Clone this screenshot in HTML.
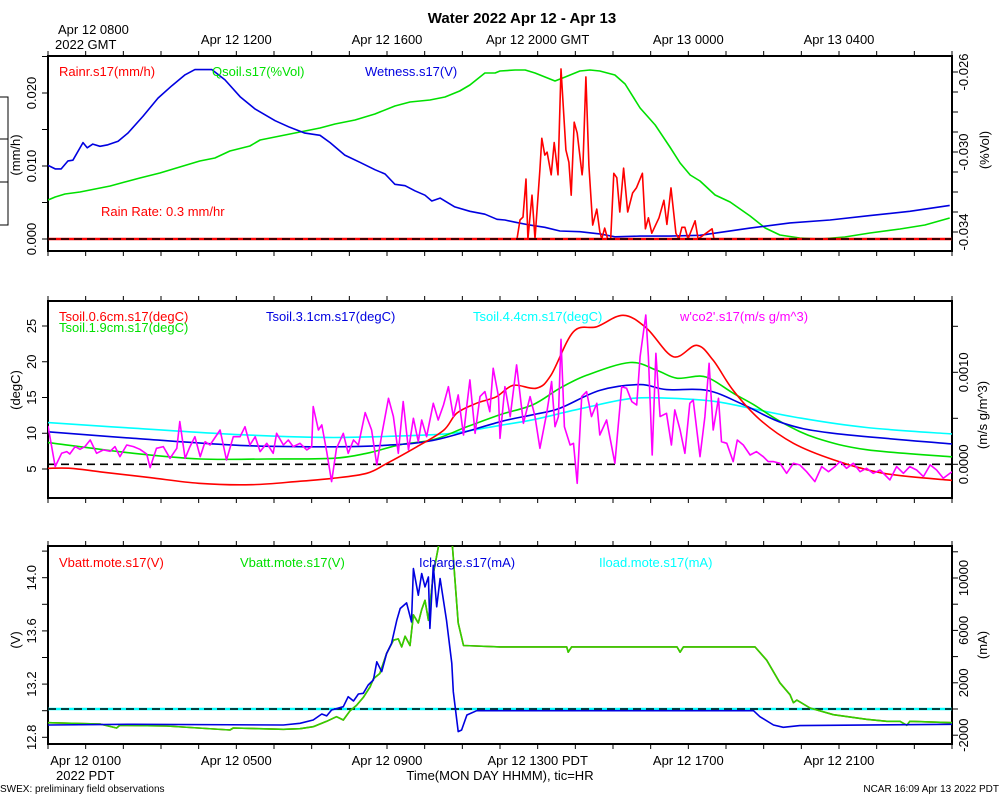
<!DOCTYPE html>
<html><head><meta charset="utf-8">
<style>
body{margin:0;background:#fff;}
svg{display:block;font-family:"Liberation Sans",sans-serif;}
</style></head>
<body>
<svg id="chart" width="1000" height="800" viewBox="0 0 1000 800">
<defs>
<clipPath id="c1"><rect x="48" y="56" width="904" height="195"/></clipPath>
<clipPath id="c2"><rect x="48" y="301" width="904" height="197"/></clipPath>
<clipPath id="c3"><rect x="48" y="546" width="904" height="198"/></clipPath>
</defs>
<text x="522" y="23" text-anchor="middle" font-size="15" font-weight="bold">Water 2022 Apr 12 - Apr 13</text>
<g id="g" font-size="13"></g>
</svg>
<script>
// ---- time axis labels
const pdtLabels=["Apr 12 0100","Apr 12 0500","Apr 12 0900","Apr 12 1300 PDT","Apr 12 1700","Apr 12 2100"];
const pdtHours=[1,5,9,13,17,21];
const gmtLabels=["","Apr 12 1200","Apr 12 1600","Apr 12 2000 GMT","Apr 13 0000","Apr 13 0400"];
// ---- panel 1 data (hours PDT)
const wetT=[0,.19,.35,.53,.66,.93,1.04,1.19,1.38,1.59,1.86,2.12,2.52,2.92,3.29,3.64,3.9,4.17,4.35,4.7,5.1,5.5,6.03,6.42,6.82,7.22,7.49,7.88,8.28,8.68,8.95,9.21,9.48,9.74,10.01,10.19,10.41,10.8,11.2,11.6,11.92,12.13,12.4,12.8,13.19,13.59,14.12,14.65,15.05,15.72,16.51,17.31,18.64,19.7,20.76,21.82,22.88,23.94];
const wetV=[.0101,.0096,.0096,.0107,.0108,.0132,.0125,.013,.0127,.0129,.0134,.0145,.0168,.0193,.021,.0225,.0232,.0232,.0232,.0218,.0195,.0178,.0162,.0153,.0145,.0142,.0132,.0115,.0105,.0095,.0089,.0075,.0073,.0066,.006,.0052,.0056,.0044,.0038,.0034,.0027,.0026,.0023,.0019,.0016,.0011,.001,.0007,.0003,.0004,.0004,.0005,.0015,.0022,.0026,.0032,.0038,.0046];
const qsT=[0,.19,.45,.85,1.25,1.65,2.04,2.44,2.97,3.5,4.03,4.43,4.83,5.36,5.63,6.16,6.69,7.22,7.62,8.15,8.68,9.21,9.61,10.14,10.54,10.93,11.2,11.6,11.87,12.0,12.4,12.67,12.93,13.46,13.73,14.12,14.39,14.65,15.05,15.32,15.72,16.12,16.51,16.78,17.05,17.31,17.71,18.11,18.64,19.04,19.43,19.96,20.49,21.15,21.82,22.62,23.28,23.94];
const qsV=[-.0324,-.03225,-.0321,-.032,-.03185,-.0317,-.0315,-.0313,-.03105,-.03075,-.03045,-.0303,-.02995,-.0297,-.0294,-.0292,-.029,-.0288,-.0286,-.0284,-.0281,-.0277,-.0275,-.0274,-.02725,-.02695,-.02665,-.02605,-.02605,-.02595,-.0259,-.0259,-.02605,-.02645,-.02625,-.02595,-.0259,-.02595,-.02615,-.0266,-.0278,-.02865,-.02975,-.03055,-.03115,-.03145,-.03215,-.0325,-.0332,-.0338,-.03415,-.0343,-.03435,-.03425,-.03405,-.03385,-.03365,-.0333];
const rainT=[0,12.45,12.53,12.61,12.69,12.74,12.85,12.93,13.06,13.11,13.19,13.25,13.36,13.44,13.54,13.62,13.75,13.83,13.89,13.97,14.05,14.18,14.2,14.28,14.36,14.46,14.57,14.65,14.7,14.78,14.86,14.94,15.02,15.1,15.18,15.28,15.39,15.52,15.62,15.78,15.86,15.94,16.03,16.22,16.35,16.43,16.54,16.67,16.75,16.83,16.91,16.99,17.18,17.26,17.63,17.68,24];
const rainV=[0,0,.0026,.003,.0082,0,.006,0,.0095,.0138,.0115,.0119,.0088,.0132,.0088,.0233,.0122,.0105,.006,.016,.0145,.0088,.0099,.0222,.0101,.0019,.0041,.001,0,.0015,0,0,.009,.0084,.0037,.0097,.0037,.0063,.007,.009,.0014,.0029,.0008,.0029,.0053,.002,.0070,.0008,0,.0016,.0016,0,.0025,0,.0014,0,0];
// ---- panel 2 data
const t06T=[0,.6,1.4,2.7,4.0,5.4,6.7,7.57,8.46,9.0,9.79,10.5,10.85,11.38,11.9,12.35,12.97,13.35,13.95,14.57,15.27,15.89,16.6,17.22,17.66,18.19,18.9,19.79,20.85,22.18,24];
const t06V=[5.1,5.1,4.6,3.8,3.0,2.8,3.3,3.7,4.4,5.8,8.1,10.4,12.8,14.2,15.1,16.7,16.3,18.1,24.2,24.9,26.5,24.7,20.7,22.3,20.2,16.0,11.9,8.6,6.3,4.4,3.4];
const t19T=[0,2.27,4.04,5.81,7.58,8.46,9.35,10.23,11.12,12.0,12.88,13.59,14.3,15.45,16.16,16.69,17.31,17.66,18.19,18.73,19.52,20.41,21.73,24];
const t19V=[8.7,7.2,6.4,6.4,6.5,7.2,8.4,9.1,10.9,12.6,14.0,16.3,18.1,19.9,18.8,17.7,18.0,17.4,15.6,14.0,11.4,9.3,7.7,6.7];
const t31T=[0,2.27,5.1,7.58,8.9,10.23,12.0,12.88,13.59,14.65,15.72,16.42,17.5,18.46,19.52,20.85,24];
const t31V=[10.2,9.3,8.3,8.1,8.3,9.0,11.6,12.6,13.5,16.0,16.8,16.1,16.0,14.0,11.4,10.0,8.5];
const t44T=[0,2.27,5.1,7.58,10.23,11.0,12.0,12.88,14.2,15.55,16.9,17.78,18.64,20.0,21.73,24];
const t44V=[11.5,10.7,9.8,9.4,9.8,10.2,11.1,11.9,13.5,14.9,14.8,14.4,13.5,12.1,10.8,9.9];
const co2T=[0,.19,.36,.5,.58,.72,.85,.98,1.12,1.29,1.47,1.65,1.78,1.91,2.09,2.27,2.44,2.62,2.71,2.88,3.06,3.24,3.42,3.5,3.64,3.77,3.9,4.04,4.17,4.3,4.57,4.74,4.92,5.1,5.23,5.36,5.5,5.63,5.81,5.98,6.07,6.25,6.38,6.51,6.69,6.87,7.0,7.04,7.18,7.27,7.4,7.53,7.66,7.84,7.97,8.11,8.24,8.42,8.59,8.73,8.86,9.04,9.17,9.3,9.43,9.57,9.7,9.83,9.92,10.05,10.23,10.36,10.5,10.63,10.76,10.89,11.03,11.12,11.2,11.34,11.47,11.6,11.73,11.82,11.96,12.0,12.13,12.27,12.44,12.62,12.8,12.93,13.06,13.24,13.37,13.46,13.55,13.62,13.71,13.86,13.95,14.05,14.17,14.3,14.43,14.57,14.65,14.83,15.05,15.23,15.36,15.5,15.63,15.72,15.87,15.94,16.04,16.14,16.25,16.42,16.55,16.64,16.78,16.91,17.04,17.13,17.31,17.44,17.55,17.66,17.8,17.88,18.02,18.19,18.3,18.46,18.64,18.81,18.99,19.12,19.26,19.43,19.61,19.79,19.96,20.14,20.36,20.54,20.72,20.89,21.03,21.2,21.38,21.56,21.73,21.91,22.09,22.35,22.53,22.71,22.88,23.06,23.24,23.42,23.59,23.77,24.0];
const co2V=[.000417,-.000025,.00012,.000138,.000112,.000192,.000163,.000192,.000264,.00012,.000156,.000141,.000192,.000083,.00021,.000192,.000163,.000112,-.000036,.000174,.000192,.000065,.000174,.000464,.000065,.000192,.0003,.000083,.000246,.00021,.000373,.000047,.0003,.0003,.000409,.00021,.0003,.000138,.000228,.00012,.000337,.00021,.000264,.000192,.000228,.000156,.000192,.000627,.000373,.000428,.000138,-.000188,.000174,.000337,.00012,.000264,.00021,.000562,.000373,-.000007,.000319,.000717,.000518,.00012,.000681,.000156,.0005,.000246,.000482,.0003,.000663,.000482,.000645,.000844,.000518,.000754,.000319,.000645,.000917,.000337,.000736,.00079,.000572,.001043,.000736,.000283,.000844,.000518,.00108,.000446,.000736,.000518,.000174,.000554,.000899,.000409,.000518,.001359,.000409,.00021,.000228,-.000207,.000736,.00079,.000518,.000663,.000319,.000482,.000011,.000844,.000826,.000681,.000645,.00117,.001623,.00117,.000101,.001207,.000518,.000554,.00021,.000591,.000373,.00012,.000663,.000699,.000083,.000518,.001098,.000373,.000717,.000246,.000228,.000029,.000264,.00021,.000101,.000138,.000083,.000029,.000029,.000011,-.000098,.000011,-.000007,-.00008,-.000188,-.000025,-.00008,-.000025,.000029,-.000043,.000011,-.00008,-.000043,-.000098,-.000062,-.00017,-.000025,-.000098,-.000025,-.000062,-.000134,-.000007,-.000062,-.000152,-.00008];
// ---- panel 3 data
const vbT=[0,1.38,1.82,1.91,3.15,4.83,4.92,6.25,6.69,7.04,7.4,7.66,7.84,8.02,8.19,8.37,8.55,8.64,8.81,8.99,9.17,9.3,9.39,9.48,9.61,9.7,9.83,9.92,10.01,10.1,10.23,10.41,10.58,10.72,10.89,11.03,12.0,13.77,13.81,13.9,16.7,16.78,16.87,18.77,19.08,19.43,19.7,19.79,19.88,20.23,20.85,21.73,22.27,22.62,22.8,22.88,24];
const vbV=[12.91,12.9,12.87,12.89,12.885,12.855,12.87,12.86,12.865,12.88,12.92,12.955,12.93,13.0,13.04,13.1,13.18,13.24,13.28,13.43,13.53,13.54,13.48,13.56,13.49,13.72,13.66,13.76,13.83,13.68,14.03,14.3,14.3,14.3,13.66,13.49,13.48,13.48,13.44,13.48,13.48,13.44,13.48,13.48,13.38,13.21,13.12,13.06,13.08,13.02,12.97,12.935,12.92,12.92,12.89,12.92,12.91];
const icT=[0,2.27,6.25,6.69,7.04,7.27,7.4,7.53,7.84,7.97,8.11,8.24,8.37,8.5,8.64,8.73,8.86,8.99,9.12,9.26,9.35,9.52,9.65,9.7,9.83,9.92,10.01,10.1,10.14,10.23,10.32,10.41,10.58,10.72,10.76,10.89,10.98,11.12,11.38,12.0,18.73,18.9,19.26,19.52,19.96,24];
const icV=[-1220,-1170,-1220,-1090,-840,-380,-530,-76,178,940,610,1143,1200,1830,2210,3600,2845,4240,5000,6780,7670,8100,6650,10720,8690,10340,9320,10080,6150,10970,7800,9960,6780,3480,1320,-1727,-1600,-457,-127,-127,-127,-584,-1220,-1400,-1270,-1170];
const ilT=[0,24];
const ilV=[0,0];

const NS="http://www.w3.org/2000/svg";
const G=document.getElementById('g');
const X=h=>48+h*37.667;
function el(tag,attrs,parent){const e=document.createElementNS(NS,tag);for(const k in attrs)e.setAttribute(k,attrs[k]);(parent||G).appendChild(e);return e;}
function txt(x,y,s,attrs){const e=el('text',Object.assign({x:x,y:y},attrs||{}));e.textContent=s;return e;}
function line(T,V,sy,color,clip,name,w){
  const pts=T.map((t,i)=>X(t).toFixed(1)+','+sy(V[i]).toFixed(1)).join(' ');
  const p=el('polyline',{points:pts,fill:'none',stroke:color,'stroke-width':w||1.6,'clip-path':'url(#'+clip+')','stroke-linejoin':'round'});
  
  
  return p;
}
function smooth(T,V,sy,color,clip,name){
  const P=T.map((t,i)=>[X(t),sy(V[i])]);
  let d='M'+P[0][0]+','+P[0][1];
  for(let i=0;i<P.length-1;i++){
    const p0=P[Math.max(0,i-1)],p1=P[i],p2=P[i+1],p3=P[Math.min(P.length-1,i+2)];
    const c1=[p1[0]+(p2[0]-p0[0])/6,p1[1]+(p2[1]-p0[1])/6],c2=[p2[0]-(p3[0]-p1[0])/6,p2[1]-(p3[1]-p1[1])/6];
    d+=' C'+c1[0].toFixed(1)+','+c1[1].toFixed(1)+' '+c2[0].toFixed(1)+','+c2[1].toFixed(1)+' '+p2[0].toFixed(1)+','+p2[1].toFixed(1);
  }
  const p=el('path',{d:d,fill:'none',stroke:color,'stroke-width':1.6,'clip-path':'url(#'+clip+')'});
  
  
}
function panel(top,bot,name){
  const r=el('rect',{x:48,y:top,width:904,height:bot-top,fill:'none',stroke:'#000','stroke-width':2});
  
  
  for(let h=0;h<=24;h++){el('line',{x1:X(h),x2:X(h),y1:top,y2:top-5,stroke:'#000','stroke-width':1});el('line',{x1:X(h),x2:X(h),y1:bot,y2:bot+5,stroke:'#000','stroke-width':1});}
}
function yaxis(vals,labels,sy,side,fmt){
  const x0=side==='l'?48:952,dx=side==='l'?-6:6;
  vals.forEach(v=>{const y=sy(v);el('line',{x1:x0,x2:x0+dx,y1:y,y2:y,stroke:'#000','stroke-width':1});});
  labels.forEach(v=>{const y=sy(v);const lx=side==='l'?36:968;
    const t=txt(lx,y,fmt(v),{'text-anchor':'middle',transform:'rotate(-90 '+lx+' '+y+')'});
    
    });
}
function rotLabel(x,y,s,name){const t=txt(x,y,s,{'text-anchor':'middle',transform:'rotate(-90 '+x+' '+y+')'});}
function legend(x,y,s,c,name){const t=txt(x,y,s,{fill:c});}
function dashed(y,clip,bg){
  if(bg)el('line',{x1:48,x2:952,y1:y,y2:y,stroke:bg,'stroke-width':2.5});
  el('line',{x1:48,x2:952,y1:y,y2:y,stroke:'#000','stroke-width':1.6,'stroke-dasharray':'8 5'});
}
// ---- panel 1
const y1L=v=>239-v*7300, y1R=v=>72+(-0.026-v)*20000;
panel(56,251,'rain-panel');
yaxis([0,.005,.01,.015,.02,.025],[0,.01,.02],y1L,'l',v=>v.toFixed(3));
yaxis([-.026,-.027,-.028,-.029,-.03,-.031,-.032,-.033,-.034],[-.026,-.030,-.034],y1R,'r',v=>v.toFixed(3));
rotLabel(20,155,'(mm/h)','y-axis-title-rain');
rotLabel(989,150,'(%Vol)','y-axis-title-qsoil');
line(qsT,qsV,y1R,'#00e000','c1','qsoil-line');
line(wetT,wetV,y1L,'#0000e0','c1','wetness-line');
line(rainT,rainV,y1L,'#ff0000','c1','rain-line');
dashed(239,'c1','#ff0000');
legend(59,76,'Rainr.s17(mm/h)','#ff0000','legend-rain');
legend(212,76,'Qsoil.s17(%Vol)','#00e000','legend-qsoil');
legend(365,76,'Wetness.s17(V)','#0000e0','legend-wetness');
legend(101,216,'Rain Rate: 0.3 mm/hr','#ff0000','rain-rate-note');
// outside bracket
el('polyline',{points:'0,97 8,97 8,225 0,225',fill:'none',stroke:'#000','stroke-width':1});
el('line',{x1:0,x2:8,y1:139,y2:139,stroke:'#000'});el('line',{x1:0,x2:8,y1:182,y2:182,stroke:'#000'});
// gmt labels
txt(58,34,'Apr 12 0800');txt(55,49,'2022 GMT');
gmtLabels.forEach((s,i)=>{if(!s)return;const t=txt(X(pdtHours[i]),44,s,{'text-anchor':'middle'});});
// ---- panel 2
const y2L=v=>469-(v-5)*7.15, y2R=v=>464.3-v*92000;
panel(301,498,'temperature-panel');
yaxis([5,10,15,20,25],[5,10,15,20,25],y2L,'l',v=>String(v));
yaxis([0,.0005,.001,.0015],[0,.001],y2R,'r',v=>v.toFixed(4));
rotLabel(20,390,'(degC)','y-axis-title-degc');
rotLabel(987,415,'(m/s g/m^3)','y-axis-title-co2');
dashed(464.3,'c2');
smooth(t44T,t44V,y2L,'#00ffff','c2','tsoil-4.4cm-line');
smooth(t19T,t19V,y2L,'#00e000','c2','tsoil-1.9cm-line');
smooth(t31T,t31V,y2L,'#0000e0','c2','tsoil-3.1cm-line');
smooth(t06T,t06V,y2L,'#ff0000','c2','tsoil-0.6cm-line');
line(co2T,co2V,y2R,'#ff00ff','c2','co2-flux-line');
legend(59,321,'Tsoil.0.6cm.s17(degC)','#ff0000','legend-tsoil-0.6');
legend(59,332,'Tsoil.1.9cm.s17(degC)','#00e000','legend-tsoil-1.9');
legend(266,321,'Tsoil.3.1cm.s17(degC)','#0000e0','legend-tsoil-3.1');
legend(473,321,'Tsoil.4.4cm.s17(degC)','#00ffff','legend-tsoil-4.4');
legend(680,321,"w'co2'.s17(m/s g/m^3)",'#ff00ff','legend-co2');
// ---- panel 3
const y3L=v=>737.3-(v-12.8)*133, y3R=v=>709-v*0.0131;
panel(546,744,'battery-panel');
yaxis([12.8,13,13.2,13.4,13.6,13.8,14,14.2],[12.8,13.2,13.6,14.0],y3L,'l',v=>v.toFixed(1));
yaxis([-2000,0,2000,4000,6000,8000,10000,12000],[-2000,2000,6000,10000],y3R,'r',v=>String(v));
rotLabel(20,640,'(V)','y-axis-title-volts');
rotLabel(987,645,'(mA)','y-axis-title-ma');
line(ilT,ilV,y3R,'#00ffff','c3','iload-line',2.5);
dashed(709,'c3');
line(vbT,vbV,y3L,'#c04000','c3','vbatt-red-line');
line(vbT,vbV,y3L,'#30d000','c3','vbatt-green-line');
line(icT,icV,y3R,'#0000e0','c3','icharge-line');
legend(59,567,'Vbatt.mote.s17(V)','#ff0000','legend-vbatt-red');
legend(240,567,'Vbatt.mote.s17(V)','#00e000','legend-vbatt-green');
legend(419,567,'Icharge.s17(mA)','#0000e0','legend-icharge');
legend(599,567,'Iload.mote.s17(mA)','#00ffff','legend-iload');
// bottom labels
pdtLabels.forEach((s,i)=>{const t=txt(X(pdtHours[i]),765,s,{'text-anchor':'middle'});});
txt(56,780,'2022 PDT');
const xt=txt(500,780,'Time(MON DAY HHMM), tic=HR',{'text-anchor':'middle'});


txt(0,792,'SWEX: preliminary field observations',{'font-size':10});
txt(999,792,'NCAR 16:09 Apr 13 2022 PDT',{'font-size':10,'text-anchor':'end'});
</script>
</body></html>
